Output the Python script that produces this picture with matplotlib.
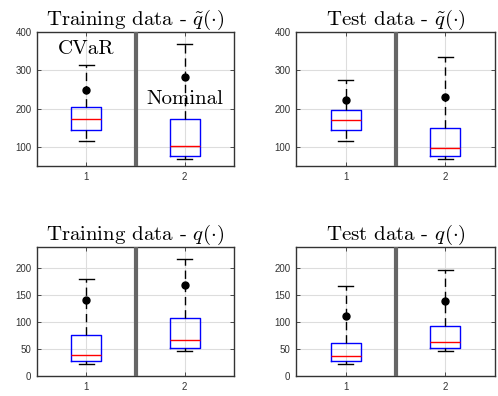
import matplotlib
matplotlib.use('Agg')
import matplotlib.pyplot as plt

plt.rcParams['mathtext.fontset'] = 'cm'
plt.rcParams['font.family'] = ['Liberation Sans', 'DejaVu Sans']

titles = [r'Training data - $\tilde{q}(\cdot)$',
          r'Test data - $\tilde{q}(\cdot)$',
          r'Training data - $q(\cdot)$',
          r'Test data - $q(\cdot)$']
positions = [1, 2]
xtick_labels = ['1', '2']

# Each panel: [CVaR, Nominal]
tl_whislo = [115, 69];  tl_q1 = [144, 77];  tl_med = [174, 103]; tl_q3 = [203, 173]; tl_whishi = [313, 368]; tl_mean = [248, 282]
tr_whislo = [114, 69];  tr_q1 = [145, 77];  tr_med = [170, 98];  tr_q3 = [196, 148]; tr_whishi = [275, 334]; tr_mean = [222, 230]
bl_whislo = [22, 46];   bl_q1 = [27, 51];   bl_med = [38, 66];   bl_q3 = [76, 107];  bl_whishi = [180, 216]; bl_mean = [141, 168]
br_whislo = [22, 46];   br_q1 = [27, 51];   br_med = [37, 63];   br_q3 = [61, 92];   br_whishi = [167, 197]; br_mean = [112, 139]

panels = [
    (tl_whislo, tl_q1, tl_med, tl_q3, tl_whishi, tl_mean),
    (tr_whislo, tr_q1, tr_med, tr_q3, tr_whishi, tr_mean),
    (bl_whislo, bl_q1, bl_med, bl_q3, bl_whishi, bl_mean),
    (br_whislo, br_q1, br_med, br_q3, br_whishi, br_mean),
]

top_yticks = [100, 200, 300, 400]
bottom_yticks = [0, 50, 100, 150, 200]

W, H = 498, 396
fig = plt.figure(figsize=(W / 100, H / 100), dpi=100)
rects = [
    (37 / W, (H - 166) / H, 197 / W, 134 / H),
    (296 / W, (H - 166) / H, 199 / W, 134 / H),
    (37 / W, (H - 376) / H, 197 / W, 129.5 / H),
    (296 / W, (H - 376) / H, 199 / W, 129.5 / H),
]

frame_col = '#333333'
for i, (rect, data) in enumerate(zip(rects, panels)):
    ax = fig.add_axes(rect)
    whislo, q1, med, q3, whishi, mean = data
    stats = []
    for j in range(len(positions)):
        stats.append(dict(whislo=whislo[j], q1=q1[j], med=med[j], q3=q3[j],
                          whishi=whishi[j], mean=mean[j], fliers=[]))
    ax.grid(True, color='#dddddd', lw=0.8, zorder=0)
    ax.set_axisbelow(True)
    ax.bxp(stats, positions=positions, widths=0.3, showmeans=True, showfliers=False,
           patch_artist=False, manage_ticks=False,
           boxprops=dict(color='blue', lw=1.0),
           medianprops=dict(color='red', lw=1.0),
           whiskerprops=dict(color='black', lw=1.0, linestyle=(0, (6, 3.5))),
           capprops=dict(color='black', lw=1.0),
           capwidths=0.15,
           meanprops=dict(marker='o', markerfacecolor='black', markeredgecolor='black', markersize=5))
    ax.axvline(1.5, color='#666666', lw=3, zorder=5)
    ax.set_xlim(0.5, 2.5)
    ax.set_xticks(positions)
    ax.set_xticklabels(xtick_labels)
    if i < 2:
        ax.set_ylim(50, 400)
        ax.set_yticks(top_yticks)
    else:
        ax.set_ylim(0, 240)
        ax.set_yticks(bottom_yticks)
    ax.tick_params(direction='in', length=3, width=0.6, labelsize=7, colors=frame_col,
                   top=True, right=True, pad=4)
    for s in ax.spines.values():
        s.set_color(frame_col)
        s.set_linewidth(1.0)
    ax.set_title(titles[i], fontsize=15, pad=5, family='cmr10')
    if i == 0:
        ax.text(1, 355, 'CVaR', fontsize=15, family='cmr10', ha='center', va='center', zorder=6)
        ax.text(2, 226, 'Nominal', fontsize=15, family='cmr10', ha='center', va='center', zorder=6)

fig.savefig('out.png', dpi=100)
